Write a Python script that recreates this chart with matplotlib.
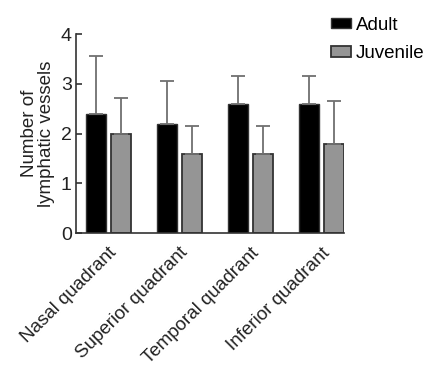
import numpy as np
import matplotlib
matplotlib.use('Agg')
import matplotlib.pyplot as plt

plt.rcParams['font.family'] = ['Liberation Sans', 'DejaVu Sans']

# Data
categories = ['Nasal quadrant', 'Superior quadrant', 'Temporal quadrant', 'Inferior quadrant']
adult_mean = [2.4, 2.2, 2.6, 2.6]
adult_sd = [1.15, 0.85, 0.55, 0.55]
juvenile_mean = [2.0, 1.6, 1.6, 1.8]
juvenile_sd = [0.72, 0.55, 0.55, 0.85]

x = np.arange(len(categories))
width = 0.28
offset = 0.176

fig = plt.figure(figsize=(4.28, 3.66), dpi=100)
ax = fig.add_axes([0.1776, 0.3626, 0.6261, 0.5444])

err_kw = dict(ecolor='#707070', elinewidth=1.3, capsize=5, capthick=1.3)
ax.bar(x - offset, adult_mean, width, color='black', edgecolor='#333333',
       linewidth=1, label='Adult',
       yerr=[np.zeros(4), adult_sd], error_kw=err_kw, zorder=2)
ax.bar(x + offset, juvenile_mean, width, color='#959595', edgecolor='#333333',
       linewidth=1.3, label='Juvenile',
       yerr=[np.zeros(4), juvenile_sd], error_kw=err_kw, zorder=2)

ax.set_xlim(-0.455, 3.317)
ax.set_ylim(0, 4)
ax.set_yticks([0, 1, 2, 3, 4])
ax.set_xticks(x)
ax.set_xticklabels(categories, rotation=45, ha='right', rotation_mode='anchor',
                   fontsize=13.5, color='#222222')
ax.tick_params(axis='y', labelsize=14, colors='#333333', labelcolor='#222222',
               direction='in', length=4, width=1.2, pad=3)
ax.tick_params(axis='x', length=0, pad=8, labelcolor='#222222')

for s in ['top', 'right']:
    ax.spines[s].set_visible(False)
for s in ['left', 'bottom']:
    ax.spines[s].set_color('#333333')
    ax.spines[s].set_linewidth(1.2)

ax.set_ylabel('Number of\nlymphatic vessels', fontsize=13.5, color='#222222',
              linespacing=1.05, labelpad=4)

fig.legend(loc='upper left', bbox_to_anchor=(0.757, 0.975), frameon=False,
           fontsize=13.5, handlelength=1.05, handleheight=0.5, handletextpad=0.25,
           labelspacing=0.6, borderaxespad=0)

fig.savefig('out.png', dpi=100)
